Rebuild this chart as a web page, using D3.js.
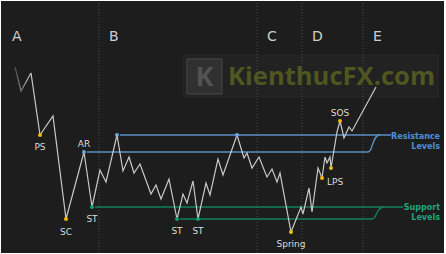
<!DOCTYPE html>
<html>
<head>
<meta charset="utf-8">
<script src="https://cdn.jsdelivr.net/npm/d3@7"></script>
<style>
  body { margin: 0; background: #ffffff; }
  svg { display: block; }
</style>
</head>
<body>
<svg id="chart"></svg>
<script>
// price path (time units, price units)
var pathTimes = [0.75, 2.25, 4.75, 7, 10.25, 13.5, 18, 20, 22, 23.5, 26.25, 27.75, 29.25, 30.5, 32,
  34.75, 36, 37.25, 39.25, 41.25, 42.75, 43.75, 45.25, 46.5, 48.5, 49.5, 51.5, 52.75, 56.25, 58,
  58.75, 60, 61.75, 63.75, 65, 66.25, 67, 69.75, 72.25, 72.75, 74.25, 75, 76.5, 77.5, 78.25, 78.75,
  79.5, 79.75, 81.25, 82, 83, 84.25, 85, 91]
var pathPrices = [84, 72, 81, 50, 59.5, 8, 41.5, 14, 32.5, 26.5, 50, 32, 39, 31, 35.5,
  20.5, 25, 18, 28, 8, 20.5, 16, 27, 8, 26, 20, 38, 30, 50, 38.5,
  41, 33.5, 39, 29, 33, 26.5, 31, 1.5, 14, 10.5, 23.5, 11.5, 33.5, 28.5, 39, 36,
  39, 33.5, 51.5, 57, 48.5, 54, 52, 74]

// event markers
var eventNames = ["PS", "SC", "AR", "ST", "ST", "ST", "Spring", "LPS", "", "SOS", "", ""]
var eventIdx = [3, 5, 6, 7, 19, 23, 37, 43, 47, 49, 10, 28]
var eventKind = ["climax", "climax", "res", "sup", "sup", "sup", "climax", "climax", "climax", "climax", "res", "res"]

// phases
var phaseNames = ["A", "B", "C", "D", "E"]
var phaseStarts = [-2.5, 21.75, 61.25, 72.5, 87.75]

// levels
var resistancePrices = [50, 41.5]
var supportPrices = [14, 8]

var W = 446, H = 254
var svg = d3.select("#chart").attr("width", W).attr("height", H)

var x = d3.scaleLinear().domain([0, 100]).range([12, 412])
var y = d3.scaleLinear().domain([0, 100]).range([235, 35])

var colors = { bg: "#1d1d1d", line: "#c9c9c9", res: "#5a8fc4", sup: "#12805a",
  supText: "#1fa57a", resText: "#4d8fd6", climax: "#f2b705", text: "#dcdcdc" }

// background panel
svg.append("rect").attr("x", 1).attr("y", 1).attr("width", W - 3).attr("height", H - 2)
  .attr("fill", colors.bg)

// fade for the start of the price line
var grad = svg.append("defs").append("linearGradient").attr("id", "fade")
  .attr("gradientUnits", "userSpaceOnUse")
  .attr("x1", x(pathTimes[0])).attr("x2", x(pathTimes[2])).attr("y1", 0).attr("y2", 0)
grad.append("stop").attr("offset", 0).attr("stop-color", colors.line).attr("stop-opacity", 0.3)
grad.append("stop").attr("offset", 1).attr("stop-color", colors.line).attr("stop-opacity", 1)

// watermark
var wm = svg.append("g")
wm.append("rect").attr("x", 183).attr("y", 55).attr("width", 255).attr("height", 42)
  .attr("fill", "#222222").attr("stroke", "#2b2b2b").attr("stroke-width", 0.8)
wm.append("rect").attr("x", 187).attr("y", 59).attr("width", 35).attr("height", 35)
  .attr("fill", "#303030").attr("stroke", "#434343").attr("stroke-width", 1.2)
wm.append("text").attr("x", 204.5).attr("y", 86).attr("text-anchor", "middle")
  .attr("font-family", "Open Sans, sans-serif").attr("font-weight", 700).attr("font-size", 27)
  .attr("fill", "#525252").text("K")
wm.append("text").attr("x", 228).attr("y", 85)
  .attr("font-family", "Open Sans, sans-serif").attr("font-weight", 700).attr("font-size", 25)
  .attr("textLength", 207).attr("lengthAdjust", "spacingAndGlyphs")
  .attr("fill", "#50561f").text("KienthucFX.com")

// phase separators and letters
phaseStarts.forEach(function (t, i) {
  if (i > 0) {
    svg.append("line").attr("x1", x(t)).attr("x2", x(t)).attr("y1", 3).attr("y2", H - 1)
      .attr("stroke", "#4a4a4a").attr("stroke-width", 1).attr("stroke-dasharray", "1,2")
  }
  svg.append("text").attr("x", x(t) + 10).attr("y", 41)
    .attr("font-family", "DejaVu Sans, sans-serif").attr("font-size", 14)
    .attr("fill", "#cfcfcf").text(phaseNames[i])
})

// level lines
function levelLine(price, t0, xEnd, joinPrice, color) {
  var p = d3.path()
  var yy = y(price)
  p.moveTo(x(t0) + 3, yy)
  if (joinPrice == null) {
    p.lineTo(xEnd, yy)
  } else {
    var yj = y(joinPrice)
    p.lineTo(xEnd - 6, yy)
    p.bezierCurveTo(xEnd - 1, yy, xEnd - 2, yj, xEnd + 6, yj)
  }
  svg.append("path").attr("d", p.toString()).attr("fill", "none")
    .attr("stroke", color).attr("stroke-width", 1.4)
}
levelLine(resistancePrices[0], pathTimes[10], 391, null, colors.res)
levelLine(resistancePrices[1], pathTimes[6], 374, resistancePrices[0], colors.res)
levelLine(supportPrices[0], pathTimes[7], 403, null, colors.sup)
levelLine(supportPrices[1], pathTimes[19], 378, supportPrices[0], colors.sup)

function levelLabel(lines, yy, color) {
  var t = svg.append("text").attr("x", 440).attr("y", yy).attr("text-anchor", "end")
    .attr("font-family", "DejaVu Sans, sans-serif").attr("font-weight", 700)
    .attr("font-size", 8).attr("fill", color)
  lines.forEach(function (s, i) {
    t.append("tspan").attr("x", 440).attr("dy", i ? 9.5 : 0).text(s)
  })
}
levelLabel(["Resistance", "Levels"], 139, colors.resText)
levelLabel(["Support", "Levels"], 210, colors.supText)

// price line
var pts = pathTimes.map(function (t, i) { return [t, pathPrices[i]] })
var line = d3.line().x(function (d) { return x(d[0]) }).y(function (d) { return y(d[1]) })
svg.append("path").datum(pts.slice(2)).attr("d", line).attr("fill", "none")
  .attr("stroke", colors.line).attr("stroke-width", 1.2).attr("stroke-linejoin", "miter")
svg.append("path").datum(pts.slice(0, 3)).attr("d", line).attr("fill", "none")
  .attr("stroke", "url(#fade)").attr("stroke-width", 1.2)

// event dots
var labelPos = { "PS": [0, 12, "middle"], "SC": [0, 13, "middle"], "AR": [0, -8, "middle"],
  "ST": [0, 12, "middle"], "Spring": [0, 12, "middle"], "LPS": [5, 4, "start"], "SOS": [0, -8, "middle"] }
eventIdx.forEach(function (k, i) {
  var cx = x(pathTimes[k]), cy = y(pathPrices[k])
  var c = eventKind[i] == "res" ? "#6aa6e0" : eventKind[i] == "sup" ? "#14a070" : colors.climax
  svg.append("circle").attr("cx", cx).attr("cy", cy).attr("r", 2).attr("fill", c)
  var name = eventNames[i]
  if (name) {
    var off = labelPos[name]
    svg.append("text").attr("x", cx + off[0]).attr("y", cy + off[1] + 3)
      .attr("text-anchor", off[2]).attr("font-family", "DejaVu Sans, sans-serif")
      .attr("font-size", 9).attr("fill", colors.text).text(name)
  }
})
</script>
</body>
</html>
